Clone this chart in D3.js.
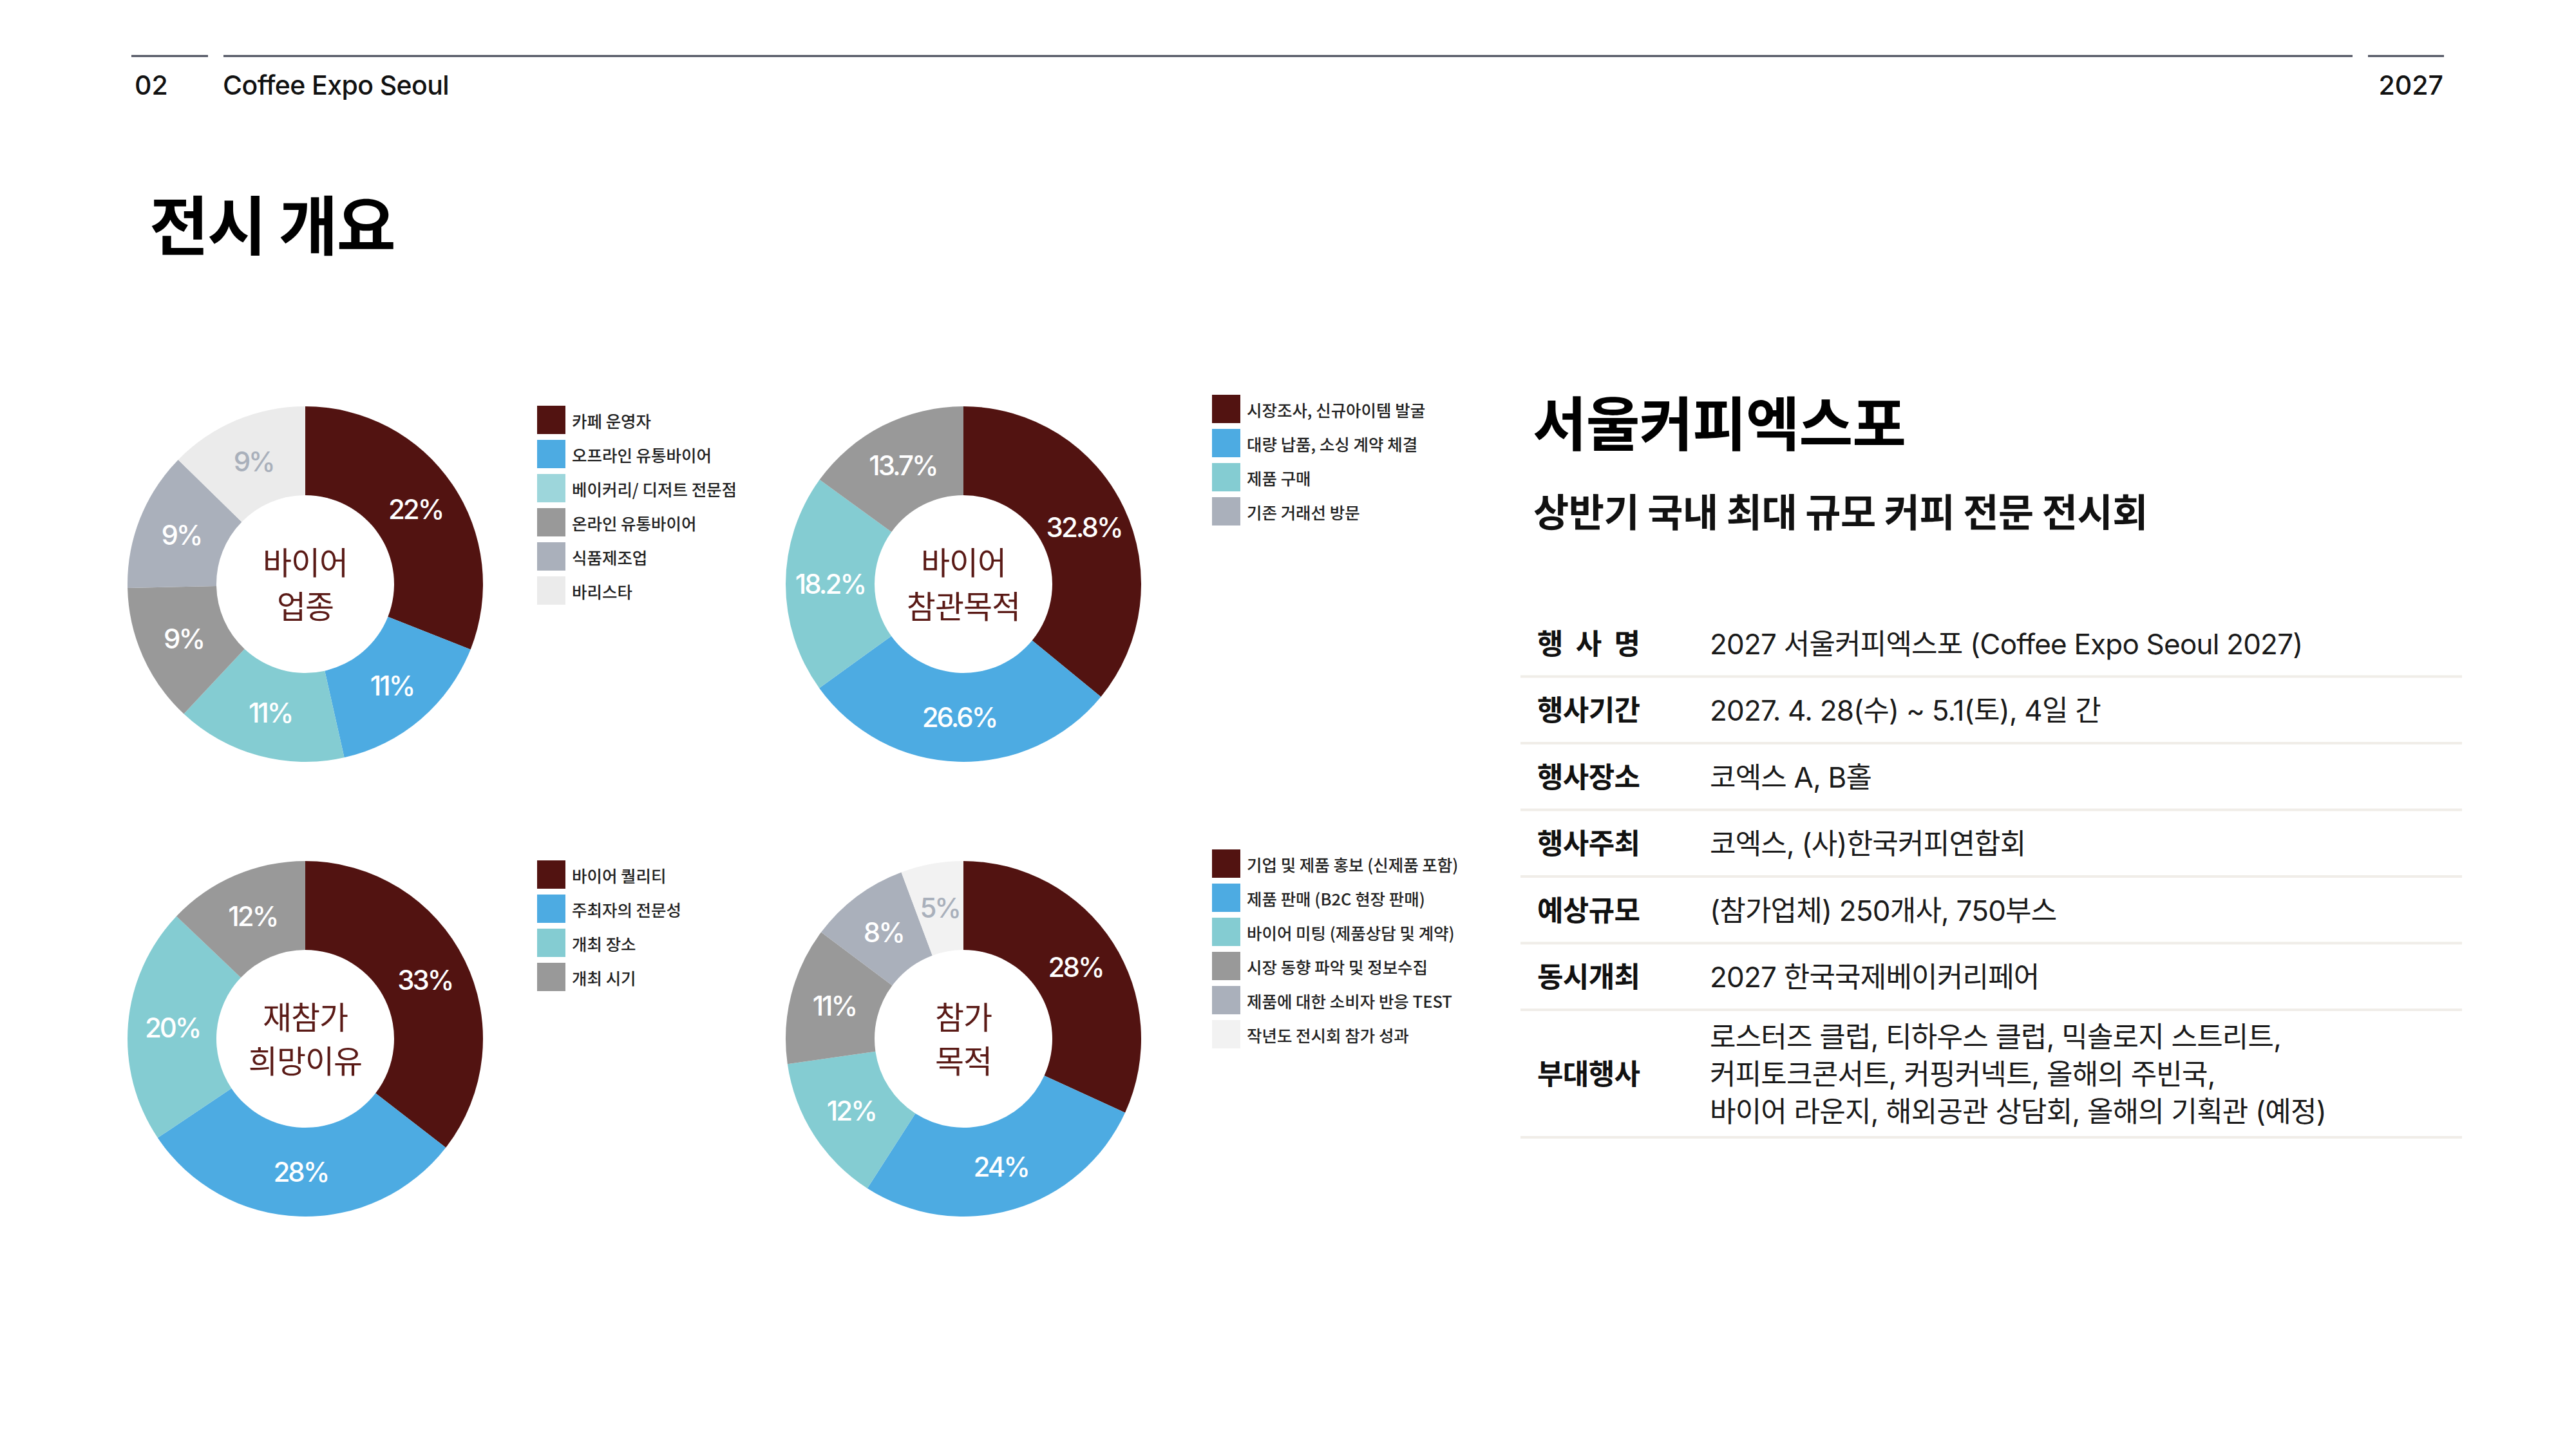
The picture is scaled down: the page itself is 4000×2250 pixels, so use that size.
<!DOCTYPE html>
<html><head><meta charset="utf-8">
<script src="https://cdn.jsdelivr.net/npm/d3@7/dist/d3.min.js"></script>
<style>
html,body{margin:0;padding:0;background:#fff;}
svg{display:block;}
</style></head>
<body>
<script>
// ---------- data ----------
const chart1Title = ["바이어", "업종"];
const chart1Labels = ["카페 운영자", "오프라인 유통바이어", "베이커리/ 디저트 전문점", "온라인 유통바이어", "식품제조업", "바리스타"];
const chart1Values = [22, 11, 11, 9, 9, 9];

const chart2Title = ["바이어", "참관목적"];
const chart2Labels = ["시장조사, 신규아이템 발굴", "대량 납품, 소싱 계약 체결", "제품 구매", "기존 거래선 방문"];
const chart2Values = [32.8, 26.6, 18.2, 13.7];

const chart3Title = ["재참가", "희망이유"];
const chart3Labels = ["바이어 퀄리티", "주최자의 전문성", "개최 장소", "개최 시기"];
const chart3Values = [33, 28, 20, 12];

const chart4Title = ["참가", "목적"];
const chart4Labels = ["기업 및 제품 홍보 (신제품 포함)", "제품 판매 (B2C 현장 판매)", "바이어 미팅 (제품상담 및 계약)", "시장 동향 파악 및 정보수집", "제품에 대한 소비자 반응 TEST", "작년도 전시회 참가 성과"];
const chart4Values = [28, 24, 12, 11, 8, 5];

const tableLabels = ["행 사 명", "행사기간", "행사장소", "행사주최", "예상규모", "동시개최", "부대행사"];
const tableValues = [
  ["2027 서울커피엑스포 (Coffee Expo Seoul 2027)"],
  ["2027. 4. 28(수) ~ 5.1(토), 4일 간"],
  ["코엑스 A, B홀"],
  ["코엑스, (사)한국커피연합회"],
  ["(참가업체) 250개사, 750부스"],
  ["2027 한국국제베이커리페어"],
  ["로스터즈 클럽, 티하우스 클럽, 믹솔로지 스트리트,", "커피토크콘서트, 커핑커넥트, 올해의 주빈국,", "바이어 라운지, 해외공관 상담회, 올해의 기획관 (예정)"]
];

const headerNumber = "02";
const headerName = "Coffee Expo Seoul";
const headerYear = "2027";
const pageTitle = "전시 개요";
const panelTitle = "서울커피엑스포";
const panelSubtitle = "상반기 국내 최대 규모 커피 전문 전시회";

// ---------- styles ----------
const RED = "#521311", BLUE = "#4DABE2", TEAL = "#84CCD2", TEAL_L = "#9DD6DB",
      GRAY = "#999999", SLATE = "#AAB0BB", LIGHT = "#EBEBEB", LIGHTER = "#F2F2F2";
const FONT = "Inter, 'Noto Sans CJK KR', sans-serif";
const KFONT = "'Noto Sans CJK KR', Inter, sans-serif";

const charts = [
  {title: chart1Title, labels: chart1Labels, values: chart1Values,
   slice: [RED, BLUE, TEAL, GRAY, SLATE, LIGHT], legend: [RED, BLUE, TEAL_L, GRAY, SLATE, LIGHT],
   cx: 474, cy: 907, lx: 834, ly: 630},
  {title: chart2Title, labels: chart2Labels, values: chart2Values,
   slice: [RED, BLUE, TEAL, GRAY], legend: [RED, BLUE, TEAL, SLATE],
   cx: 1496, cy: 907, lx: 1882, ly: 613},
  {title: chart3Title, labels: chart3Labels, values: chart3Values,
   slice: [RED, BLUE, TEAL, GRAY], legend: [RED, BLUE, TEAL, GRAY],
   cx: 474, cy: 1613, lx: 834, ly: 1336},
  {title: chart4Title, labels: chart4Labels, values: chart4Values,
   slice: [RED, BLUE, TEAL, GRAY, SLATE, LIGHTER], legend: [RED, BLUE, TEAL, GRAY, SLATE, LIGHTER],
   cx: 1496, cy: 1613, lx: 1882, ly: 1319}
];

const W = 4000, H = 2250;
const svg = d3.select("body").append("svg").attr("width", W).attr("height", H)
  .attr("viewBox", `0 0 ${W} ${H}`);
svg.append("rect").attr("width", W).attr("height", H).attr("fill", "#fff");

// ---------- header ----------
const lineColor = "#474b59";
[[204, 323], [347, 3653], [3677, 3795]].forEach(([a, b]) => {
  svg.append("line").attr("x1", a).attr("x2", b).attr("y1", 87).attr("y2", 87)
    .attr("stroke", lineColor).attr("stroke-width", 3);
});
svg.append("text").attr("x", 209).attr("y", 147).text(headerNumber)
  .attr("font-family", FONT).attr("font-size", 41).attr("font-weight", 500).attr("fill", "#111");
svg.append("text").attr("x", 346).attr("y", 147).text(headerName)
  .attr("font-family", FONT).attr("font-size", 41).attr("font-weight", 500)
  .attr("letter-spacing", -0.6).attr("fill", "#111");
svg.append("text").attr("x", 3794).attr("y", 147).attr("text-anchor", "end").text(headerYear)
  .attr("font-family", FONT).attr("font-size", 41).attr("font-weight", 500).attr("fill", "#111");

svg.append("text").attr("x", 232).attr("y", 388).text(pageTitle)
  .attr("font-family", KFONT).attr("font-size", 100).attr("font-weight", 700)
  .attr("letter-spacing", -2).attr("fill", "#000");

// ---------- donuts ----------
const R_OUT = 276, R_IN = 138;
const pie = d3.pie().sort(null).value(d => d);
const arc = d3.arc().innerRadius(R_IN).outerRadius(R_OUT);

charts.forEach(ch => {
  const g = svg.append("g").attr("transform", `translate(${ch.cx},${ch.cy})`);
  const arcs = pie(ch.values);
  g.selectAll("path").data(arcs).join("path")
    .attr("d", arc).attr("fill", (d, i) => ch.slice[i]);
  g.selectAll("text.pct").data(arcs).join("text").attr("class", "pct")
    .attr("transform", d => `translate(${arc.centroid(d)})`)
    .attr("text-anchor", "middle").attr("dominant-baseline", "central")
    .attr("font-family", FONT).attr("font-size", 42).attr("font-weight", 500)
    .attr("letter-spacing", -3)
    .attr("fill", (d, i) => (ch.slice[i] === LIGHT || ch.slice[i] === LIGHTER) ? "#A9B0BB" : "#fff")
    .text(d => d.data + "%");
  g.selectAll("text.ctr").data(ch.title).join("text").attr("class", "ctr")
    .attr("x", 0).attr("y", (d, i) => i === 0 ? -37 : 31)
    .attr("text-anchor", "middle").attr("dominant-baseline", "central")
    .attr("font-family", KFONT).attr("font-size", 49).attr("font-weight", 400)
    .attr("letter-spacing", -1)
    .attr("fill", "#5a1a16").text(d => d);

  // legend
  const lg = svg.append("g").attr("transform", `translate(${ch.lx},${ch.ly})`);
  const pitch = 53, sw = 44;
  const items = lg.selectAll("g").data(ch.labels).join("g")
    .attr("transform", (d, i) => `translate(0,${i * pitch})`);
  items.append("rect").attr("width", sw).attr("height", sw).attr("fill", (d, i) => ch.legend[i]);
  items.append("text").attr("x", 54).attr("y", sw / 2).attr("dominant-baseline", "central")
    .attr("font-family", KFONT).attr("font-size", 25.5).attr("font-weight", 500)
    .attr("letter-spacing", 0).attr("fill", "#222").text(d => d);
});

// ---------- right panel ----------
svg.append("text").attr("x", 2380).attr("y", 692).text(panelTitle)
  .attr("font-family", KFONT).attr("font-size", 91).attr("font-weight", 700)
  .attr("letter-spacing", -1).attr("fill", "#000");
svg.append("text").attr("x", 2381).attr("y", 818).text(panelSubtitle)
  .attr("font-family", KFONT).attr("font-size", 60).attr("font-weight", 700)
  .attr("letter-spacing", -0.5).attr("fill", "#111");

let rowTop = 947;
const LX = 2387, VX = 2655, SEP_X1 = 2361, SEP_X2 = 3823, LINE_H = 58;
tableLabels.forEach((lab, i) => {
  const lines = tableValues[i];
  const h = lines.length === 1 ? 103.5 : 198;
  const c = rowTop + h / 2;
  svg.append("text").attr("x", LX).attr("y", c + 17).text(lab)
    .attr("font-family", KFONT).attr("font-size", 44).attr("font-weight", 700)
    .attr("textLength", 160).attr("lengthAdjust", "spacing")
    .attr("fill", "#111");
  lines.forEach((ln, k) => {
    svg.append("text").attr("x", VX).attr("y", c + 17 + (k - (lines.length - 1) / 2) * LINE_H).text(ln)
      .attr("font-family", FONT).attr("font-size", 44).attr("font-weight", 400)
      .attr("letter-spacing", -0.8).attr("fill", "#1a1a1a");
  });
  rowTop += h;
  svg.append("rect").attr("x", SEP_X1).attr("y", rowTop - 2).attr("width", SEP_X2 - SEP_X1).attr("height", 4)
    .attr("fill", "#F0EDE8");
});
</script>
</body></html>
